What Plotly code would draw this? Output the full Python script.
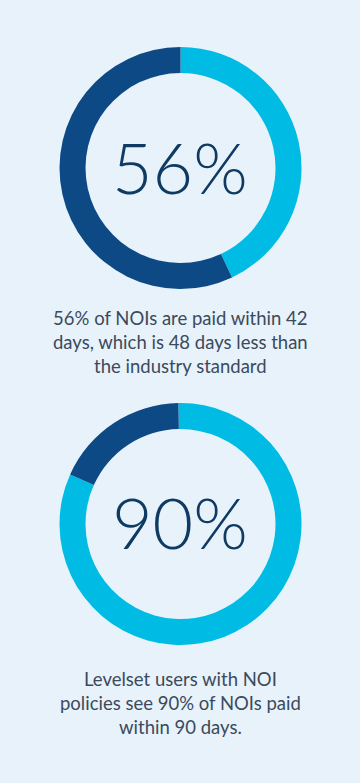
import plotly.graph_objects as go

# Data
donut1_labels = ["Other", "Paid within 42 days"]
donut1_values = [43, 57]
donut2_labels = ["Paid within 90 days", "Other"]
donut2_values = [82, 18]
big_labels = ["56%", "90%"]
captions = [
    "56% of NOIs are paid within 42<br>days, which is 48 days less than<br>the industry standard",
    "Levelset users with NOI<br>policies see 90% of NOIs paid<br>within 90 days.",
]

DARK = "#0d4a85"
LIGHT = "#00bce4"
BG = "#e8f2fb"
NAVY = "#0f3b63"
CAP = "#3b4a5c"

fig = go.Figure()
fig.add_trace(go.Pie(
    labels=donut1_labels, values=donut1_values, hole=0.785, sort=False,
    direction="clockwise", rotation=0,
    marker=dict(colors=[LIGHT, DARK], line=dict(width=0)),
    textinfo="none", hoverinfo="label+percent", showlegend=False,
    domain=dict(x=[0.1653, 0.8375], y=[0.6309, 0.94]),
))
fig.add_trace(go.Pie(
    labels=donut2_labels, values=donut2_values, hole=0.785, sort=False,
    direction="clockwise", rotation=-1,
    marker=dict(colors=[LIGHT, DARK], line=dict(width=0)),
    textinfo="none", hoverinfo="label+percent", showlegend=False,
    domain=dict(x=[0.1653, 0.8375], y=[0.1762, 0.4853]),
))

centers_y = [1 - 167 / 783, 1 - 522 / 783]
caption_y = [1 - 342 / 783, 1 - 703 / 783]
for i in range(2):
    fig.add_annotation(
        x=0.5, y=centers_y[i], xref="paper", yref="paper",
        text=big_labels[i], showarrow=False, xanchor="center", yanchor="middle",
        font=dict(family="Lato", size=70, color=NAVY, weight=300),
    )
    fig.add_annotation(
        x=0.5, y=caption_y[i], xref="paper", yref="paper",
        text=captions[i], showarrow=False, xanchor="center", yanchor="middle",
        align="center",
        font=dict(family="Lato", size=18.5, color=CAP),
    )

fig.update_layout(
    width=360, height=783,
    margin=dict(l=0, r=0, t=0, b=0),
    paper_bgcolor=BG, plot_bgcolor=BG,
)
fig.write_html("out.html")
